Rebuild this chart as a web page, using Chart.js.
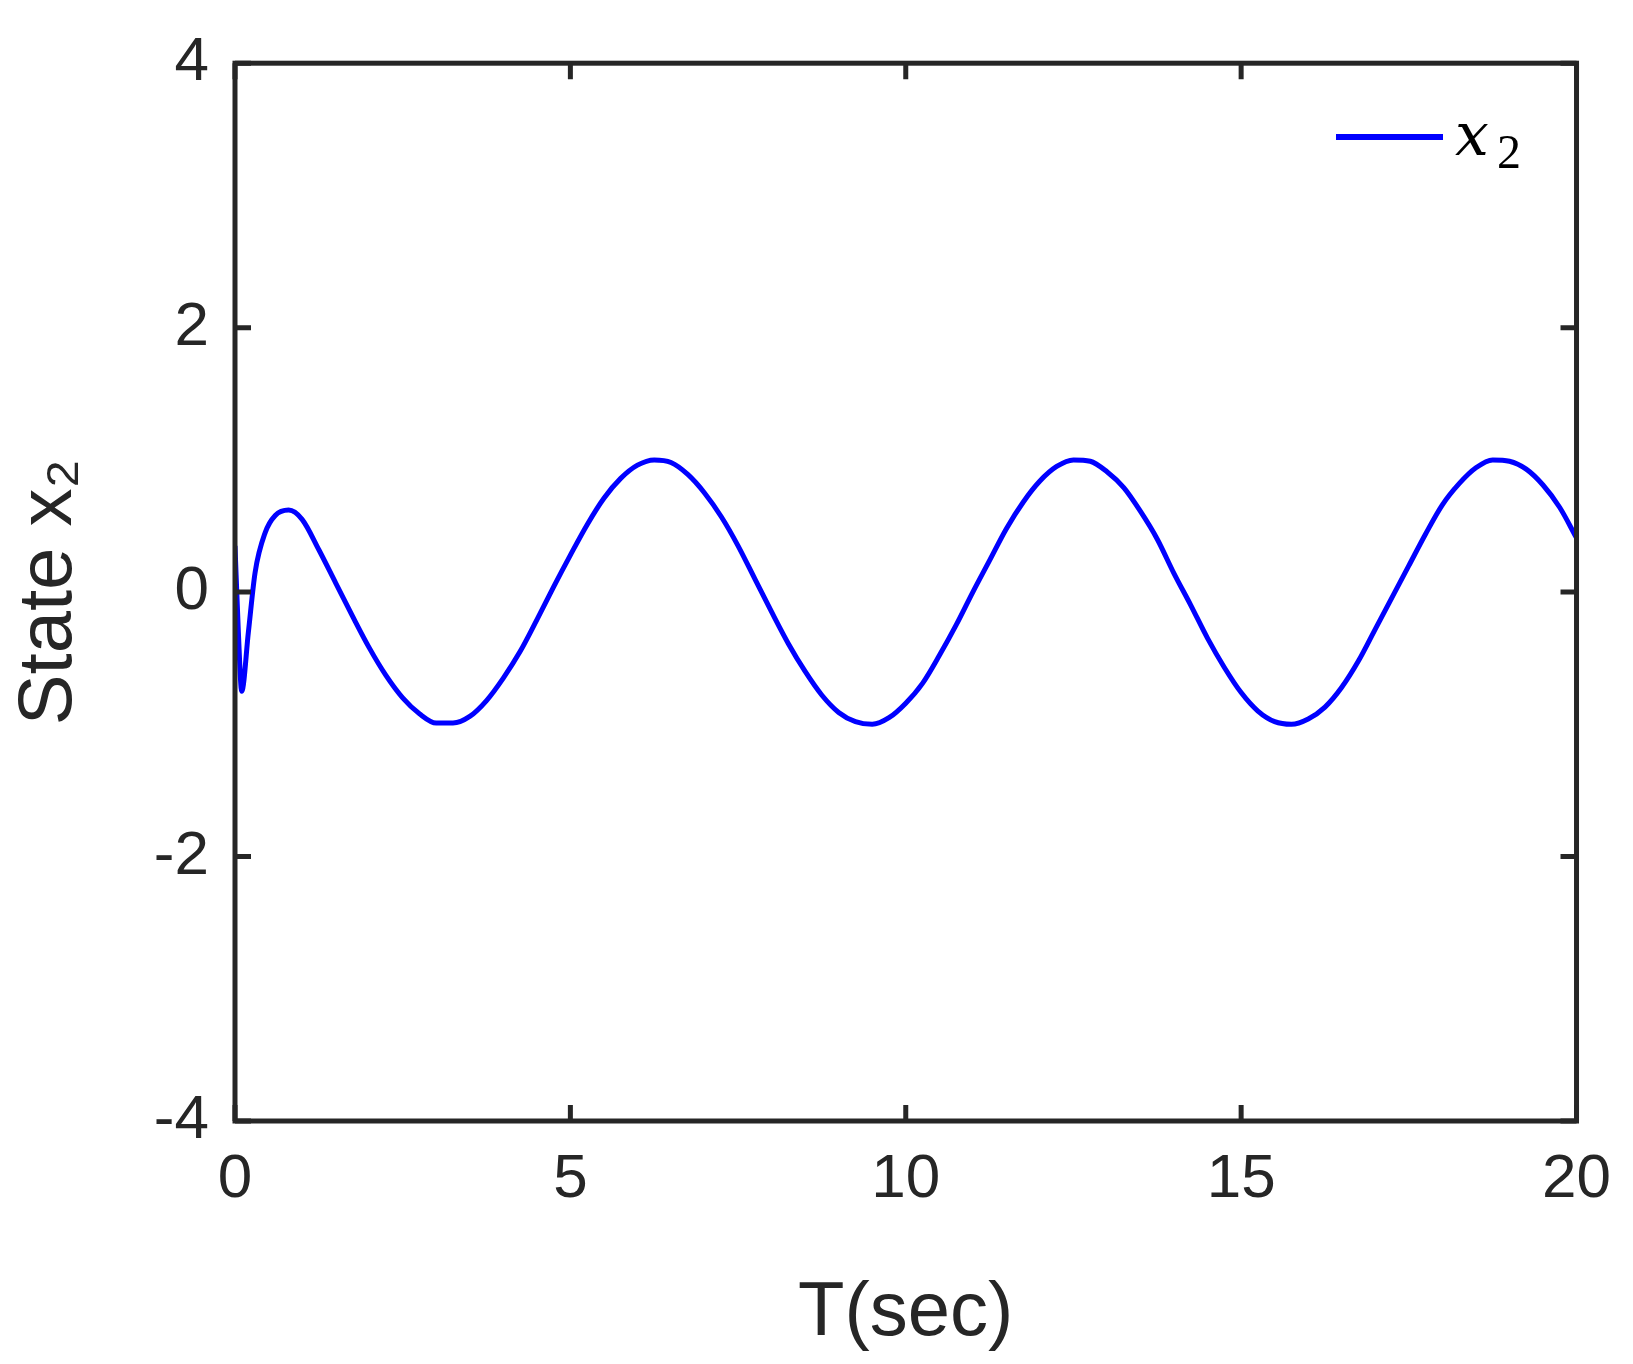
<!DOCTYPE html>
<html><head><meta charset="utf-8">
<script src="https://cdn.jsdelivr.net/npm/chart.js@4/dist/chart.umd.min.js"></script>
<style>html,body{margin:0;padding:0;background:#fff}#w{width:1633px;height:1364px}</style>
</head><body><div id="w"><canvas id="c"></canvas></div>
<script>
const times=[0,0.05,0.1,0.2,0.3,0.45,0.6,0.8,1.0,1.25,1.5,1.75,2,2.25,2.5,2.75,3,3.25,3.5,3.75,4,4.25,4.5,4.75,5,5.25,5.5,5.75,6,6.25,6.5,6.75,7,7.25,7.5,7.75,8,8.25,8.5,8.75,9,9.25,9.5,9.75,10,10.25,10.5,10.75,11,11.25,11.5,11.75,12,12.25,12.5,12.75,13,13.25,13.5,13.75,14,14.25,14.5,14.75,15,15.25,15.5,15.75,16,16.25,16.5,16.75,17,17.25,17.5,17.75,18,18.25,18.5,18.75,19,19.25,19.5,19.75,20];
const x2=[0.35,-0.3,-0.75,-0.3,0.15,0.45,0.58,0.62,0.55,0.32,0.07,-0.18,-0.42,-0.63,-0.8,-0.92,-0.99,-0.99,-0.94,-0.82,-0.65,-0.45,-0.21,0.04,0.28,0.51,0.71,0.86,0.96,1.0,0.98,0.89,0.75,0.57,0.35,0.1,-0.15,-0.39,-0.6,-0.78,-0.91,-0.98,-1.0,-0.95,-0.84,-0.69,-0.48,-0.25,0.0,0.24,0.48,0.68,0.84,0.95,1.0,0.99,0.91,0.79,0.61,0.4,0.14,-0.1,-0.35,-0.57,-0.76,-0.9,-0.98,-1.0,-0.96,-0.87,-0.72,-0.52,-0.28,-0.04,0.2,0.44,0.66,0.82,0.94,1.0,0.99,0.93,0.81,0.64,0.41];
const xTicks=[0,5,10,15,20];
const yTicks=[-4,-2,0,2,4];
const ink='#262626';
const frame={id:'frame',afterDatasetsDraw(ch){
  const {ctx,chartArea:a,scales:{x,y}}=ch;
  ctx.save();ctx.strokeStyle=ink;ctx.lineWidth=5;
  ctx.strokeRect(a.left,a.top,a.right-a.left,a.bottom-a.top);
  ctx.beginPath();
  xTicks.forEach(v=>{const p=x.getPixelForValue(v);ctx.moveTo(p,a.bottom);ctx.lineTo(p,a.bottom-16);ctx.moveTo(p,a.top);ctx.lineTo(p,a.top+16);});
  yTicks.forEach(v=>{const p=y.getPixelForValue(v);ctx.moveTo(a.left,p);ctx.lineTo(a.left+16,p);ctx.moveTo(a.right,p);ctx.lineTo(a.right-16,p);});
  ctx.stroke();
  ctx.strokeStyle='#0000ff';ctx.lineWidth=6;ctx.beginPath();ctx.moveTo(1336,137);ctx.lineTo(1443,137);ctx.stroke();
  ctx.fillStyle='#000';ctx.textBaseline='alphabetic';
  ctx.font='italic 60px "DejaVu Serif", "Liberation Serif", serif';ctx.fillText('x',1455,155);
  ctx.font='48px "Liberation Serif", serif';ctx.fillText('2',1497,168);
  ctx.restore();}};
new Chart(document.getElementById('c'),{type:'line',
 data:{datasets:[{data:times.map((t,i)=>({x:t,y:x2[i]})),borderColor:'#0000ff',borderWidth:5,pointRadius:0,cubicInterpolationMode:'monotone',fill:false}]},
 options:{responsive:true,maintainAspectRatio:false,animation:false,
  layout:{padding:{left:0,top:8,right:38,bottom:0}},
  plugins:{legend:{display:false},tooltip:{enabled:false}},
  scales:{
   x:{type:'linear',min:0,max:20,afterFit(s){s.height=243;},afterBuildTicks(s){s.ticks=xTicks.map(v=>({value:v}));},
      grid:{display:false,drawTicks:false},border:{display:false},
      ticks:{padding:22,color:ink,font:{family:'"Liberation Sans", Arial, sans-serif',size:62}},
      title:{display:true,text:'T(sec)',color:ink,padding:{top:0},font:{family:'"Liberation Sans", Arial, sans-serif',size:76}}},
   y:{min:-4,max:4,afterFit(s){s.width=235;},afterBuildTicks(s){s.ticks=yTicks.map(v=>({value:v}));},
      grid:{display:false,drawTicks:false},border:{display:false},
      ticks:{padding:26,color:ink,font:{family:'"Liberation Sans", Arial, sans-serif',size:62}},
      title:{display:true,text:'State x₂',color:ink,padding:{bottom:10},font:{family:'"Liberation Sans", Arial, sans-serif',size:76}}}
  }},plugins:[frame]});
</script></body></html>
